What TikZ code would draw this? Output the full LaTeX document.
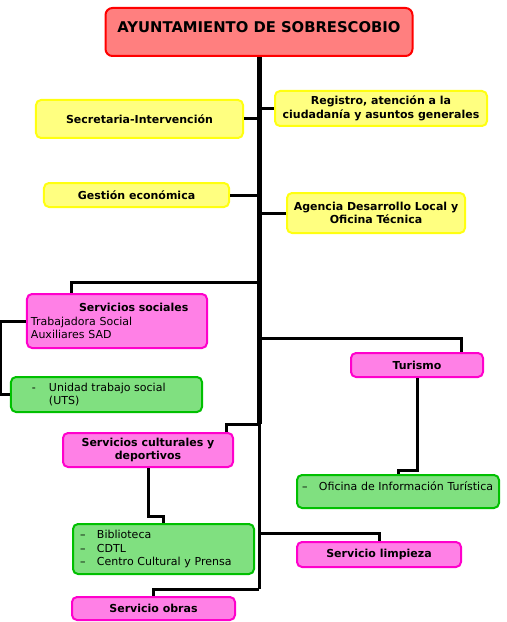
\documentclass[tikz,border=0pt]{standalone}
\usepackage{fontspec}
\setmainfont{DejaVu Sans}
\usetikzlibrary{calc}

\definecolor{rojoBorde}{HTML}{FF0000}
\definecolor{rojoFondo}{HTML}{FF7F7F}
\definecolor{amarBorde}{HTML}{FFFF10}
\definecolor{amarFondo}{HTML}{FFFF80}
\definecolor{rosaBorde}{HTML}{FF00CC}
\definecolor{rosaFondo}{HTML}{FF80E6}
\definecolor{verdeBorde}{HTML}{00C000}
\definecolor{verdeFondo}{HTML}{80E080}

\newcommand{\guion}[2]{\makebox[17bp][l]{#1}#2}

\begin{document}
\begin{tikzpicture}[x=1bp,y=1bp]
\tikzstyle{every node}+=[inner sep=0pt]
\tikzstyle{caja}=[draw, rounded corners=5bp, line width=2bp, font=\fontsize{11bp}{13.5bp}\selectfont]
\tikzstyle{roja}=[caja, draw=rojoBorde, fill=rojoFondo, rounded corners=7bp]
\tikzstyle{amarilla}=[caja, draw=amarBorde, fill=amarFondo, align=center, font=\fontsize{11bp}{13.5bp}\selectfont\bfseries]
\tikzstyle{rosa}=[caja, draw=rosaBorde, fill=rosaFondo, align=center, font=\fontsize{11bp}{13.5bp}\selectfont\bfseries]
\tikzstyle{verde}=[caja, draw=verdeBorde, fill=verdeFondo, align=left]
\tikzstyle{tronco}=[line width=5bp]
\tikzstyle{rama}=[line width=3bp, line join=miter]
\useasboundingbox (0,0) rectangle (507,-622);
% cabecera
\node [roja, minimum width=307bp, minimum height=48bp, text height=10.8bp, text depth=10bp, font=\fontsize{14.8bp}{16bp}\selectfont\bfseries] (ayto) at (259,-32) {AYUNTAMIENTO DE SOBRESCOBIO};
% areas amarillas
\node [amarilla, minimum width=207bp, minimum height=38bp] (secre) at (139.5,-119) {Secretaria-Intervención};
\node [amarilla, minimum width=212bp, minimum height=35bp] (registro) at (381,-108.5) {Registro, atención a la\\ciudadanía y asuntos generales};
\node [amarilla, minimum width=185bp, minimum height=24bp] (gestion) at (136.5,-195) {Gestión económica};
\node [amarilla, minimum width=178bp, minimum height=40bp] (agencia) at (376,-213) {Agencia Desarrollo Local y\\Oficina Técnica};
% servicios
\node [caja, draw=rosaBorde, fill=rosaFondo, align=left, text width=172bp, inner xsep=4bp, minimum height=54bp] (sociales) at (117,-321) {\hspace*{48bp}\textbf{Servicios sociales}\\Trabajadora Social\\Auxiliares SAD};
\node [verde, text width=149bp, inner xsep=21bp, minimum height=35bp] (uts) at (106.5,-394.5) {\guion{-}{Unidad trabajo social}\\\guion{}{(UTS)}};
\node [rosa, minimum width=132bp, minimum height=24bp] (turismo) at (417,-365) {Turismo};
\node [verde, text width=192bp, inner xsep=5bp, minimum height=33bp, text height=9bp, text depth=12bp] (oficina) at (398,-491.5) {\guion{–}{Oficina de Información Turística}};
\node [rosa, minimum width=170bp, minimum height=34bp] (cult) at (148,-450) {Servicios culturales y\\deportivos};
\node [verde, text width=167bp, inner xsep=7bp, minimum height=50bp] (bib) at (163.5,-549) {\guion{–}{Biblioteca}\\\guion{–}{CDTL}\\\guion{–}{Centro Cultural y Prensa}};
\node [rosa, minimum width=164bp, minimum height=25bp] (limp) at (379,-554.5) {Servicio limpieza};
\node [rosa, minimum width=163bp, minimum height=23bp] (obras) at (153.5,-608.5) {Servicio obras};
% tronco
\coordinate (j1) at (259,-282);
\coordinate (j2) at (259,-338);
\coordinate (t1) at (259,-424);
\coordinate (j3) at (259,-533);
\coordinate (t2) at (259,-589);
\draw [tronco] (ayto.south) -- (t1);
\draw [rama] (t1) -- (t2);
% ramas
\draw [rama] (secre.east) -- (secre.east -| ayto.south);
\draw [rama] (registro.west) -- (registro.west -| ayto.south);
\draw [rama] (gestion.east) -- (gestion.east -| ayto.south);
\draw [rama] (agencia.west) -- (agencia.west -| ayto.south);
\draw [rama] (j1) -| ($(sociales.north west)+(45,0)$);
\draw [rama] (sociales.west) -- ++(-25,0) |- (uts.west);
\draw [rama] (j2) -| ($(turismo.north east)+(-23,0)$);
\draw [rama] (turismo.south) -- ++(0,-92) -| (oficina.north);
\draw [rama] (t1) -| ($(cult.north east)+(-8,0)$);
\draw [rama] (cult.south) -- ++(0,-48) -| (bib.north);
\draw [rama] (j3) -| (limp.north);
\draw [rama] (t2) -| (obras.north);
\end{tikzpicture}
\end{document}
